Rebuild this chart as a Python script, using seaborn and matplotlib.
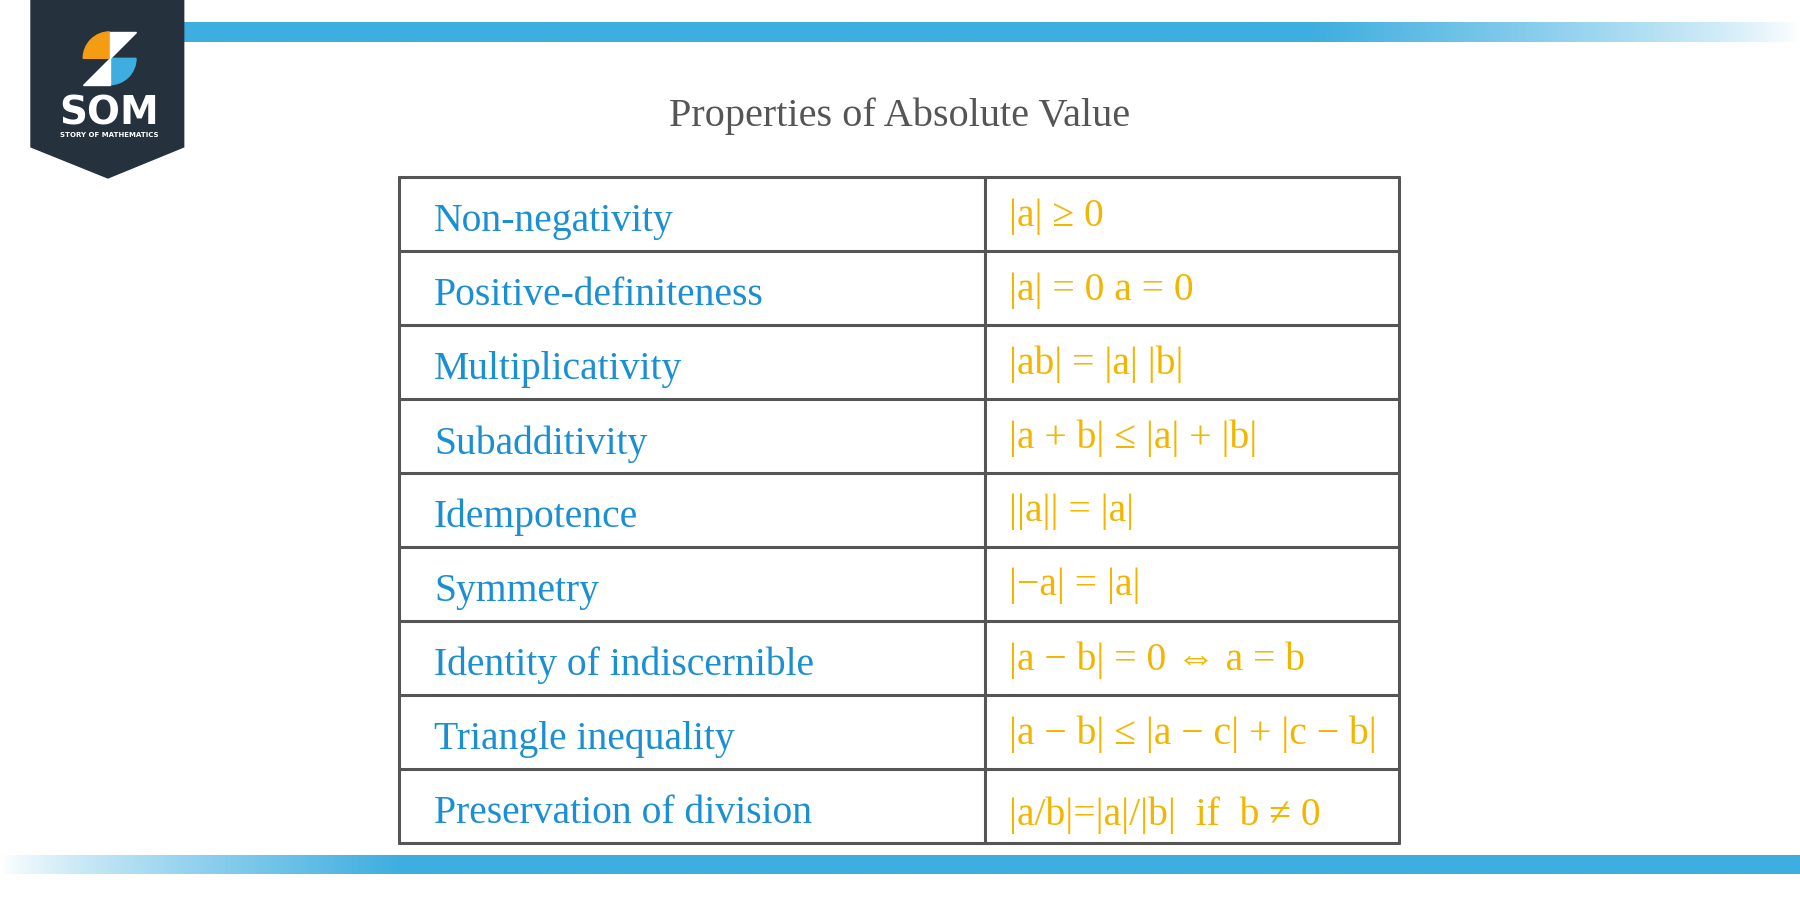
import numpy as np
import seaborn as sns
import matplotlib.pyplot as plt
from matplotlib.patches import Polygon, Wedge
from matplotlib.colors import to_rgb

title = "Properties of Absolute Value"
properties = ["Non-negativity", "Positive-definiteness", "Multiplicativity", "Subadditivity",
              "Idempotence", "Symmetry", "Identity of indiscernible", "Triangle inequality",
              "Preservation of division"]
formulas = ["|a| \u2265 0", "|a| = 0 a = 0", "|ab| = |a| |b|", "|a + b| \u2264 |a| + |b|",
            "||a|| = |a|", "|\u2212a| = |a|", "|a \u2212 b| = 0 \u21d4 a = b",
            "|a \u2212 b| \u2264 |a \u2212 c| + |c \u2212 b|", "|a/b|=|a|/|b|  if  b \u2260 0"]

sns.set_style("white")
W, H = 1568, 784
fig = plt.figure(figsize=(18, 9), dpi=100)
ax = fig.add_axes([0, 0, 1, 1])
ax.set_xlim(0, W); ax.set_ylim(H, 0); ax.axis("off")

band = np.array(to_rgb("#3eaee0"))
def grad(x0, x1, y0, y1, a):
    img = np.ones((1, len(a), 4)); img[0, :, :3] = band; img[0, :, 3] = a
    ax.imshow(img, extent=[x0, x1, y1, y0], aspect="auto", zorder=1, interpolation="bilinear")
n = 400
xs = np.linspace(0, 1, n)
grad(160, 1568, 20, 37, np.clip((1 - xs) / 0.3, 0, 1) ** 0.8)
grad(0, 1568, 745, 761, np.clip(xs / 0.22, 0, 1) ** 0.8)

# logo
ax.add_patch(Polygon([[27, 0], [160, 0], [160, 128], [94, 155], [27, 128]], closed=True,
                     color="#25313c", zorder=3))
cx, cy, r = 95.5, 50.8, 23
ax.add_patch(Wedge((cx, cy), r, 180, 270, color="#f59d12", zorder=4))
ax.add_patch(Wedge((cx, cy), r, 0, 90, color="#3eaee0", zorder=4))
ax.add_patch(Polygon([[cx, cy], [cx, cy - r], [cx + r, cy - r]], color="white", zorder=4))
ax.add_patch(Polygon([[cx, cy], [cx, cy + r], [cx - r, cy + r]], color="white", zorder=4))
ax.text(95, 99, "SOM", color="white", fontsize=28, fontweight="bold", ha="center", va="center",
        family="DejaVu Sans", zorder=5)
ax.text(95, 118, "STORY OF MATHEMATICS", color="white", fontsize=5, fontweight="bold",
        ha="center", va="center", family="DejaVu Sans", zorder=5)

ax.text(784, 101, title, fontsize=29, color="#555555", ha="center", va="center",
        family="Liberation Serif")

L, M, R, T, B = 348, 858, 1219, 154, 734
nr = len(properties)
rh = (B - T) / nr
lc = "#555555"
for i in range(nr + 1):
    ax.plot([L, R], [T + i * rh] * 2, color=lc, lw=2.2, zorder=2)
for x in (L, M, R):
    ax.plot([x, x], [T, B], color=lc, lw=2.2, zorder=2)
for i, (p, f) in enumerate(zip(properties, formulas)):
    yc = T + i * rh + rh / 2
    ax.text(378, yc + 7, p, fontsize=28.5, color="#1a8fd3", va="center", ha="left",
            family="Liberation Serif")
    ax.text(879, yc + 2 + (6 if i == nr - 1 else 0), f, fontsize=28.5, color="#f2b600",
            va="center", ha="left", family="Liberation Serif")

fig.savefig("out.png", dpi=100, facecolor="white")
